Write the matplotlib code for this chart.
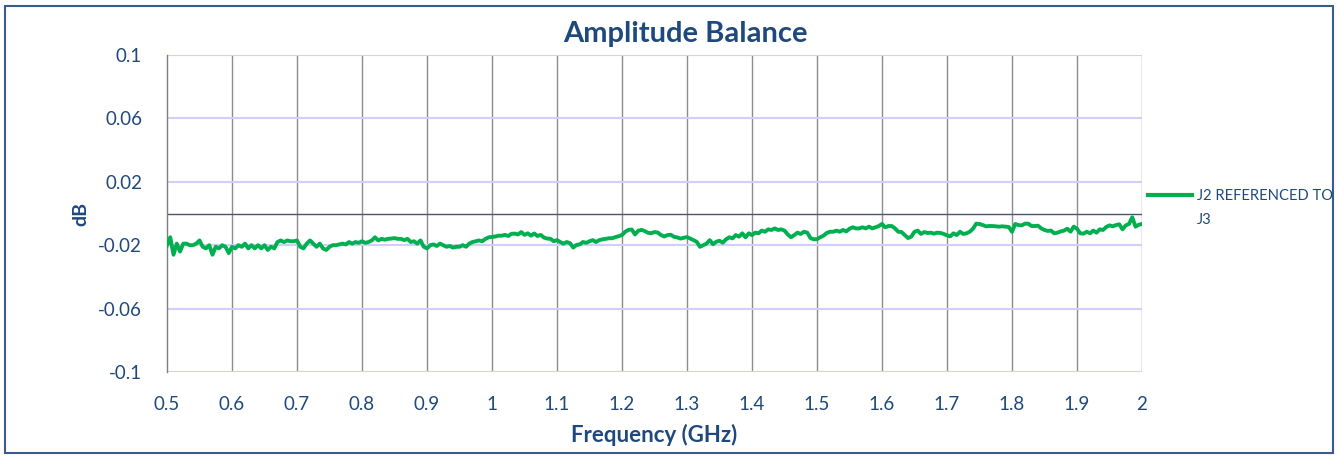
import numpy as np
import matplotlib
matplotlib.use('Agg')
import matplotlib.pyplot as plt
from matplotlib.patches import Rectangle

plt.rcParams['font.family'] = ['Lato', 'DejaVu Sans']

# data (sweep 0.5 - 2 GHz, 5 MHz step)
f_start, f_stop, n_pts = 0.5, 2.0, 301
j2_ref_j3 = [
    # 0.500 - 0.595
    -0.0200, -0.0150, -0.0260, -0.0190, -0.0240, -0.0190, -0.0190, -0.0200, -0.0200, -0.0190,
    -0.0170, -0.0210, -0.0220, -0.0200, -0.0260, -0.0210, -0.0220, -0.0200, -0.0210, -0.0250,
    # 0.600 - 0.695
    -0.0210, -0.0220, -0.0200, -0.0210, -0.0190, -0.0220, -0.0200, -0.0220, -0.0200, -0.0220,
    -0.0200, -0.0230, -0.0210, -0.0220, -0.0180, -0.0170, -0.0180, -0.0170, -0.0175, -0.0175,
    # 0.700 - 0.795
    -0.0170, -0.0210, -0.0220, -0.0190, -0.0170, -0.0190, -0.0210, -0.0190, -0.0220, -0.0230,
    -0.0210, -0.0200, -0.0200, -0.0195, -0.0190, -0.0195, -0.0180, -0.0190, -0.0180, -0.0185,
    # 0.800 - 0.895
    -0.0175, -0.0185, -0.0180, -0.0170, -0.0150, -0.0170, -0.0160, -0.0165, -0.0160, -0.0158,
    -0.0155, -0.0160, -0.0160, -0.0168, -0.0160, -0.0180, -0.0175, -0.0190, -0.0170, -0.0210,
    # 0.900 - 0.995
    -0.0220, -0.0200, -0.0195, -0.0205, -0.0190, -0.0200, -0.0210, -0.0205, -0.0215, -0.0210,
    -0.0210, -0.0200, -0.0210, -0.0190, -0.0180, -0.0175, -0.0170, -0.0175, -0.0160, -0.0150,
    # 1.000 - 1.095
    -0.0148, -0.0145, -0.0140, -0.0140, -0.0135, -0.0142, -0.0128, -0.0127, -0.0132, -0.0117,
    -0.0135, -0.0125, -0.0140, -0.0126, -0.0142, -0.0135, -0.0152, -0.0158, -0.0160, -0.0175,
    # 1.100 - 1.195
    -0.0168, -0.0180, -0.0190, -0.0180, -0.0187, -0.0215, -0.0198, -0.0195, -0.0180, -0.0185,
    -0.0175, -0.0168, -0.0180, -0.0168, -0.0163, -0.0160, -0.0156, -0.0156, -0.0149, -0.0143,
    # 1.200 - 1.295
    -0.0136, -0.0115, -0.0103, -0.0101, -0.0132, -0.0109, -0.0103, -0.0111, -0.0122, -0.0124,
    -0.0117, -0.0120, -0.0136, -0.0145, -0.0136, -0.0134, -0.0147, -0.0151, -0.0158, -0.0153,
    # 1.300 - 1.395
    -0.0149, -0.0158, -0.0168, -0.0179, -0.0210, -0.0200, -0.0190, -0.0168, -0.0194, -0.0178,
    -0.0172, -0.0184, -0.0163, -0.0150, -0.0157, -0.0136, -0.0146, -0.0125, -0.0150, -0.0125,
    # 1.400 - 1.495
    -0.0136, -0.0121, -0.0125, -0.0108, -0.0115, -0.0100, -0.0104, -0.0094, -0.0104, -0.0100,
    -0.0108, -0.0132, -0.0150, -0.0136, -0.0121, -0.0129, -0.0115, -0.0121, -0.0155, -0.0163,
    # 1.500 - 1.595
    -0.0162, -0.0150, -0.0140, -0.0123, -0.0115, -0.0115, -0.0108, -0.0115, -0.0104, -0.0113,
    -0.0096, -0.0087, -0.0094, -0.0094, -0.0087, -0.0094, -0.0083, -0.0094, -0.0087, -0.0079,
    # 1.600 - 1.695
    -0.0066, -0.0087, -0.0079, -0.0079, -0.0094, -0.0115, -0.0117, -0.0136, -0.0155, -0.0146,
    -0.0115, -0.0108, -0.0129, -0.0117, -0.0123, -0.0121, -0.0127, -0.0121, -0.0123, -0.0129,
    # 1.700 - 1.795
    -0.0138, -0.0144, -0.0125, -0.0136, -0.0115, -0.0129, -0.0125, -0.0115, -0.0096, -0.0064,
    -0.0066, -0.0073, -0.0081, -0.0079, -0.0079, -0.0081, -0.0083, -0.0081, -0.0083, -0.0085,
    # 1.800 - 1.895
    -0.0115, -0.0066, -0.0073, -0.0075, -0.0064, -0.0064, -0.0079, -0.0079, -0.0077, -0.0094,
    -0.0104, -0.0110, -0.0108, -0.0125, -0.0121, -0.0113, -0.0108, -0.0096, -0.0115, -0.0083,
    # 1.900 - 2.000
    -0.0096, -0.0125, -0.0127, -0.0115, -0.0125, -0.0108, -0.0121, -0.0100, -0.0104, -0.0085,
    -0.0075, -0.0081, -0.0073, -0.0068, -0.0100, -0.0075, -0.0066, -0.0024, -0.0083, -0.0071,
    -0.0066,
]
freq = np.linspace(f_start, f_stop, n_pts)

x_ticks = [0.5, 0.6, 0.7, 0.8, 0.9, 1.0, 1.1, 1.2, 1.3, 1.4, 1.5, 1.6, 1.7, 1.8, 1.9, 2.0]
x_labels = ['0.5', '0.6', '0.7', '0.8', '0.9', '1', '1.1', '1.2', '1.3', '1.4',
            '1.5', '1.6', '1.7', '1.8', '1.9', '2']
y_ticks = [-0.1, -0.06, -0.02, 0.02, 0.06, 0.1]
y_labels = ['-0.1', '-0.06', '-0.02', '0.02', '0.06', '0.1']

txt_col = '#1F497D'
W, H = 1338, 455

fig = plt.figure(figsize=(W / 100, H / 100), dpi=100)
ax = fig.add_axes([167 / W, 1 - 372 / H, (1142 - 167) / W, (372 - 55) / H])

ax.set_xlim(f_start, f_stop)
ax.set_ylim(-0.1, 0.1)

# gridlines: grey verticals, lavender horizontals, dark zero line
for x in x_ticks[1:]:
    ax.axvline(x, color='#8c8c8c', lw=1.0, zorder=1)
for y in y_ticks:
    ax.axhline(y, color='#cfcff7', lw=1.5, zorder=1)
ax.axhline(0, color='#4d5670', lw=1.0, zorder=2)

ax.plot(freq, j2_ref_j3, color='#00B050', lw=2.8, zorder=3, label='J2 REFERENCED TO',
        solid_joinstyle='round')

for s in ['top', 'right', 'bottom']:
    ax.spines[s].set_visible(False)
ax.spines['left'].set_color('#7f7f7f')
ax.spines['left'].set_linewidth(1.0)

ax.set_xticks(x_ticks)
ax.set_xticklabels(x_labels)
ax.set_yticks(y_ticks)
ax.set_yticklabels(y_labels)
ax.tick_params(axis='both', length=0, labelsize=13.5, colors=txt_col)
ax.tick_params(axis='x', pad=17)
ax.tick_params(axis='y', pad=18)

ax.set_xlabel('Frequency (GHz)', fontsize=16, fontweight='bold', color=txt_col, labelpad=8)
ax.set_ylabel('dB', fontsize=14, fontweight='bold', color=txt_col, labelpad=6)

fig.text(685 / W, 1 - 34 / H, 'Amplitude Balance', ha='center', va='center',
         fontsize=21, fontweight='bold', color=txt_col)

leg = fig.legend(loc='center left', bbox_to_anchor=(1148 / W, 1 - 196 / H),
                 frameon=False, fontsize=10.6, handlelength=3.0, handletextpad=0.35,
                 borderpad=0, borderaxespad=0)
for t in leg.get_texts():
    t.set_color(txt_col)
for h in leg.legend_handles:
    h.set_linewidth(3.0)
fig.text(1197 / W, 1 - 220 / H, 'J3', ha='left', va='center', fontsize=10.6, color=txt_col)

# outer chart border
fig.patches.append(Rectangle((5 / W, 1 - 453 / H), 1328 / W, 447 / H, transform=fig.transFigure,
                             fill=False, edgecolor='#3a5c8c', lw=1.5))

fig.savefig('out.png', dpi=100)
